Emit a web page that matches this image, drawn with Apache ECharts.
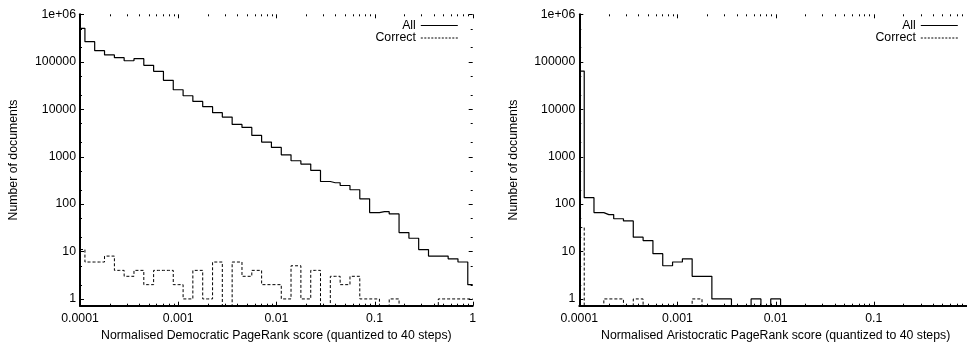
<!DOCTYPE html>
<html>
<head>
<meta charset="utf-8">
<script src="https://cdn.jsdelivr.net/npm/echarts@6/dist/echarts.min.js"></script>
<style>
  html, body { margin: 0; padding: 0; background: #fff; }
  #chart { width: 967px; height: 347px; }
</style>
</head>
<body>
<div id="chart"></div>
<script>
// Bin centres: 41 log-spaced scores from 1e-4 to 1, a tenth of a decade apart
const binScores = [
  0.0001, 0.000126, 0.000158, 0.0002, 0.000251, 0.000316, 0.000398, 0.000501, 0.000631, 0.000794,
  0.001, 0.00126, 0.00158, 0.002, 0.00251, 0.00316, 0.00398, 0.00501, 0.00631, 0.00794,
  0.01, 0.0126, 0.0158, 0.02, 0.0251, 0.0316, 0.0398, 0.0501, 0.0631, 0.0794,
  0.1, 0.126, 0.158, 0.2, 0.251, 0.316, 0.398, 0.501, 0.631, 0.794,
  1
];

// Democratic PageRank: documents per bin
const democraticAll = [
  507000, 265000, 171000, 139000, 122000, 105000, 116000, 84000, 62700, 40500,
  25700, 19200, 14600, 11300, 8430, 6830, 4780, 4130, 2800, 2030,
  1560, 1090, 818, 695, 511, 299, 281, 246, 200, 129,
  66, 69, 62, 25, 19, 11, 8, 8, 7, 6,
  2
];
const democraticCorrect = [
  11, 6, 6, 8, 4, 3, 4, 2, 4, 4,
  2, 1, 4, 1, 6, 0, 6, 3, 4, 2,
  2, 1, 5, 1, 4, 0, 3, 2, 3, 1,
  1, 0, 1, 0, 0, 0, 0, 1, 1, 1,
  1
];

// Aristocratic PageRank: documents per bin
const aristocraticAll = [
  63500, 136, 66, 60, 49, 44, 20, 17, 9, 5,
  6, 7, 3, 3, 1, 1, 0, 0, 1, 0,
  1, 0, 0, 0, 0, 0, 0, 0, 0, 0,
  0, 0, 0, 0, 0, 0, 0, 0, 0, 0,
  0
];
const aristocraticCorrect = [
  32, 0, 0, 1, 1, 0, 1, 0, 0, 0,
  0, 0, 1, 0, 0, 0, 0, 0, 0, 0,
  0, 0, 0, 0, 0, 0, 0, 0, 0, 0,
  0, 0, 0, 0, 0, 0, 0, 0, 0, 0,
  0
];

// Axis ticks and their labels
const xTickLabels = ['0.0001', '0.001', '0.01', '0.1', '1'];
const yTickLabels = ['1', '10', '100', '1000', '10000', '100000', '1e+06'];
const xMajorTicks = [0.0001, 0.001, 0.01, 0.1, 1];
const xMinorTicks = [
  0.0002, 0.0003, 0.0004, 0.0005, 0.0006, 0.0007, 0.0008, 0.0009,
  0.002, 0.003, 0.004, 0.005, 0.006, 0.007, 0.008, 0.009,
  0.02, 0.03, 0.04, 0.05, 0.06, 0.07, 0.08, 0.09,
  0.2, 0.3, 0.4, 0.5, 0.6, 0.7, 0.8, 0.9
];
const yMajorTicks = [1, 10, 100, 1000, 10000, 100000, 1000000];
const yMinorTicks = [2, 5, 20, 50, 200, 500, 2000, 5000, 20000, 50000, 200000, 500000];

const X_MIN = 0.0001, X_MAX = 1;
const Y_FLOOR = 0.72, Y_MAX = 1000000;

const FONT = "'Liberation Sans', Arial, Helvetica, sans-serif";
const FONT_SIZE = 12.3;
const INK = '#000';

// Empty bins sit on the floor of the log axis
function steps(counts) {
  return binScores.map((s, i) => [s, counts[i] > 0 ? counts[i] : Y_FLOOR]);
}

function decadeLabel(labels, offset) {
  return function (v) {
    const e = Math.log10(v);
    const r = Math.round(e);
    if (Math.abs(e - r) > 1e-6) return '';
    return labels[r + offset] || '';
  };
}

// Ticks on all four sides, pointing into the plot
function tickSeries(gridIdx, dim, values, len) {
  return {
    type: 'custom',
    xAxisIndex: gridIdx,
    yAxisIndex: gridIdx,
    silent: true,
    clip: false,
    z: 5,
    data: values.map(v => dim === 'x' ? [v, 10] : [0.001, v]),
    renderItem: function (params, api) {
      const cs = params.coordSys;
      const p = api.coord([api.value(0), api.value(1)]);
      const st = { stroke: INK, lineWidth: 1 };
      if (dim === 'x') {
        const x = Math.round(p[0]) + 0.5;
        const yb = cs.y + cs.height, yt = cs.y;
        return { type: 'group', children: [
          { type: 'line', shape: { x1: x, y1: yb, x2: x, y2: yb - len }, style: st },
          { type: 'line', shape: { x1: x, y1: yt, x2: x, y2: yt + len }, style: st }
        ]};
      }
      const y = Math.round(p[1]) + 0.5;
      const xl = cs.x, xr = cs.x + cs.width;
      return { type: 'group', children: [
        { type: 'line', shape: { x1: xl, y1: y, x2: xl + len, y2: y }, style: st },
        { type: 'line', shape: { x1: xr, y1: y, x2: xr - len, y2: y }, style: st }
      ]};
    }
  };
}

function xAxisFor(gridIdx, title) {
  return {
    gridIndex: gridIdx,
    type: 'log',
    logBase: 10,
    min: X_MIN,
    max: X_MAX,
    axisLine: { show: true, onZero: false, lineStyle: { color: INK, width: 2 } },
    axisTick: { show: false },
    splitLine: { show: false },
    minorTick: { show: false },
    axisLabel: {
      color: INK, fontFamily: FONT, fontSize: FONT_SIZE, margin: 7,
      formatter: decadeLabel(xTickLabels, 4)
    },
    name: title,
    nameLocation: 'middle',
    nameGap: 20,
    nameTextStyle: { color: INK, fontFamily: FONT, fontSize: FONT_SIZE }
  };
}

function yAxisFor(gridIdx) {
  return {
    gridIndex: gridIdx,
    type: 'log',
    logBase: 10,
    min: Y_FLOOR,
    max: Y_MAX,
    axisLine: { show: true, onZero: false, lineStyle: { color: INK, width: 2 } },
    axisTick: { show: false },
    splitLine: { show: false },
    minorTick: { show: false },
    axisLabel: {
      color: INK, fontFamily: FONT, fontSize: FONT_SIZE, margin: 4,
      formatter: decadeLabel(yTickLabels, 0)
    },
    name: 'Number of documents',
    nameLocation: 'middle',
    nameRotate: 90,
    nameGap: 60,
    nameTextStyle: { color: INK, fontFamily: FONT, fontSize: FONT_SIZE }
  };
}

function stepLine(gridIdx, name, counts, dashed) {
  return {
    type: 'line',
    name: name,
    xAxisIndex: gridIdx,
    yAxisIndex: gridIdx,
    data: steps(counts),
    step: 'middle',
    symbol: 'none',
    showSymbol: false,
    clip: true,
    silent: true,
    z: 3,
    itemStyle: { color: INK },
    lineStyle: dashed
      ? { color: INK, width: 1, type: [3, 2] }
      : { color: INK, width: 1.2 }
  };
}

// One legend per entry so the line samples line up under each other
function legendItem(name, right, top, dashed) {
  return {
    data: [name],
    right: right,
    top: top,
    orient: 'horizontal',
    align: 'right',
    padding: 0,
    itemWidth: 37,
    itemHeight: 14,
    selectedMode: false,
    itemStyle: { color: 'rgba(0,0,0,0)', borderWidth: 0, opacity: 0 },
    lineStyle: { width: 1, color: INK, type: dashed ? [2, 1.5] : 'solid' },
    textStyle: { color: INK, fontFamily: FONT, fontSize: FONT_SIZE, lineHeight: 14 }
  };
}

const chart = echarts.init(document.getElementById('chart'), null, { renderer: 'canvas' });

chart.setOption({
  animation: false,
  backgroundColor: '#fff',
  grid: [
    { left: 80, top: 14.3, width: 392.7, height: 291.4, containLabel: false, outerBoundsMode: 'none' },
    { left: 579.3, top: 14.3, width: 392.7, height: 291.4, containLabel: false, outerBoundsMode: 'none' }
  ],
  legend: [
    legendItem('All', 508.7, 18.5, false),
    legendItem('Correct', 508.7, 31, true),
    legendItem('All', 8.7, 18.5, false),
    legendItem('Correct', 8.7, 31, true)
  ],
  xAxis: [
    xAxisFor(0, 'Normalised Democratic PageRank score (quantized to 40 steps)'),
    xAxisFor(1, 'Normalised Aristocratic PageRank score (quantized to 40 steps)')
  ],
  yAxis: [yAxisFor(0), yAxisFor(1)],
  series: [
    stepLine(0, 'All', democraticAll, false),
    stepLine(0, 'Correct', democraticCorrect, true),
    stepLine(1, 'All', aristocraticAll, false),
    stepLine(1, 'Correct', aristocraticCorrect, true),
    tickSeries(0, 'x', xMajorTicks, 4),
    tickSeries(0, 'x', xMinorTicks, 2),
    tickSeries(0, 'y', yMajorTicks, 4),
    tickSeries(0, 'y', yMinorTicks, 2),
    tickSeries(1, 'x', xMajorTicks, 4),
    tickSeries(1, 'x', xMinorTicks, 2),
    tickSeries(1, 'y', yMajorTicks, 4),
    tickSeries(1, 'y', yMinorTicks, 2)
  ]
});
</script>
</body>
</html>
